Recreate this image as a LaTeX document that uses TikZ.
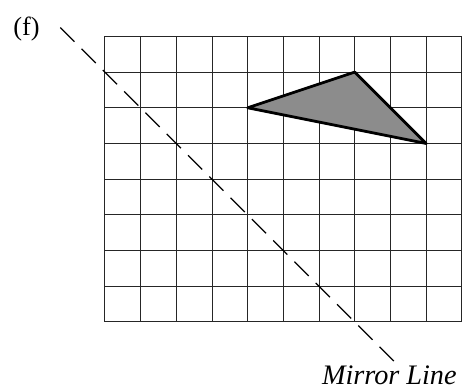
\documentclass[tikz,border=0pt]{standalone}
\usepackage{fontspec}
\setmainfont{Liberation Serif}
\usetikzlibrary{positioning,calc}

\begin{document}
\begin{tikzpicture}[
    gridline/.style={draw=black!85, line width=0.75pt},
    tri/.style={draw=black, fill=black!45, line width=2.2pt, line join=round},
    mirror/.style={draw=black, line width=1pt, dash pattern=on 16pt off 8pt},
    lbl/.style={inner sep=0pt, font=\fontsize{21}{24}\selectfont}
]
\useasboundingbox (-2.94,-1.88) rectangle (10.34,9.02);

\draw[gridline] (0,0) grid (10,8);

\coordinate (a) at (4,6);
\coordinate (b) at (7,7);
\coordinate (c) at (9,5);
\draw[tri] (a) -- (b) -- (c) -- cycle;

\coordinate (mtop) at (-1.25,8.25);
\coordinate (mbot) at (8.1,-1.1);
\draw[mirror] (mtop) -- (mbot);

\node[lbl] (part) at (-2.2,8.22) {(f)};
\node[lbl, font=\fontsize{22.5}{26}\selectfont\itshape, anchor=base east] (mname) at (9.86,-1.74) {Mirror Line};
\end{tikzpicture}
\end{document}
